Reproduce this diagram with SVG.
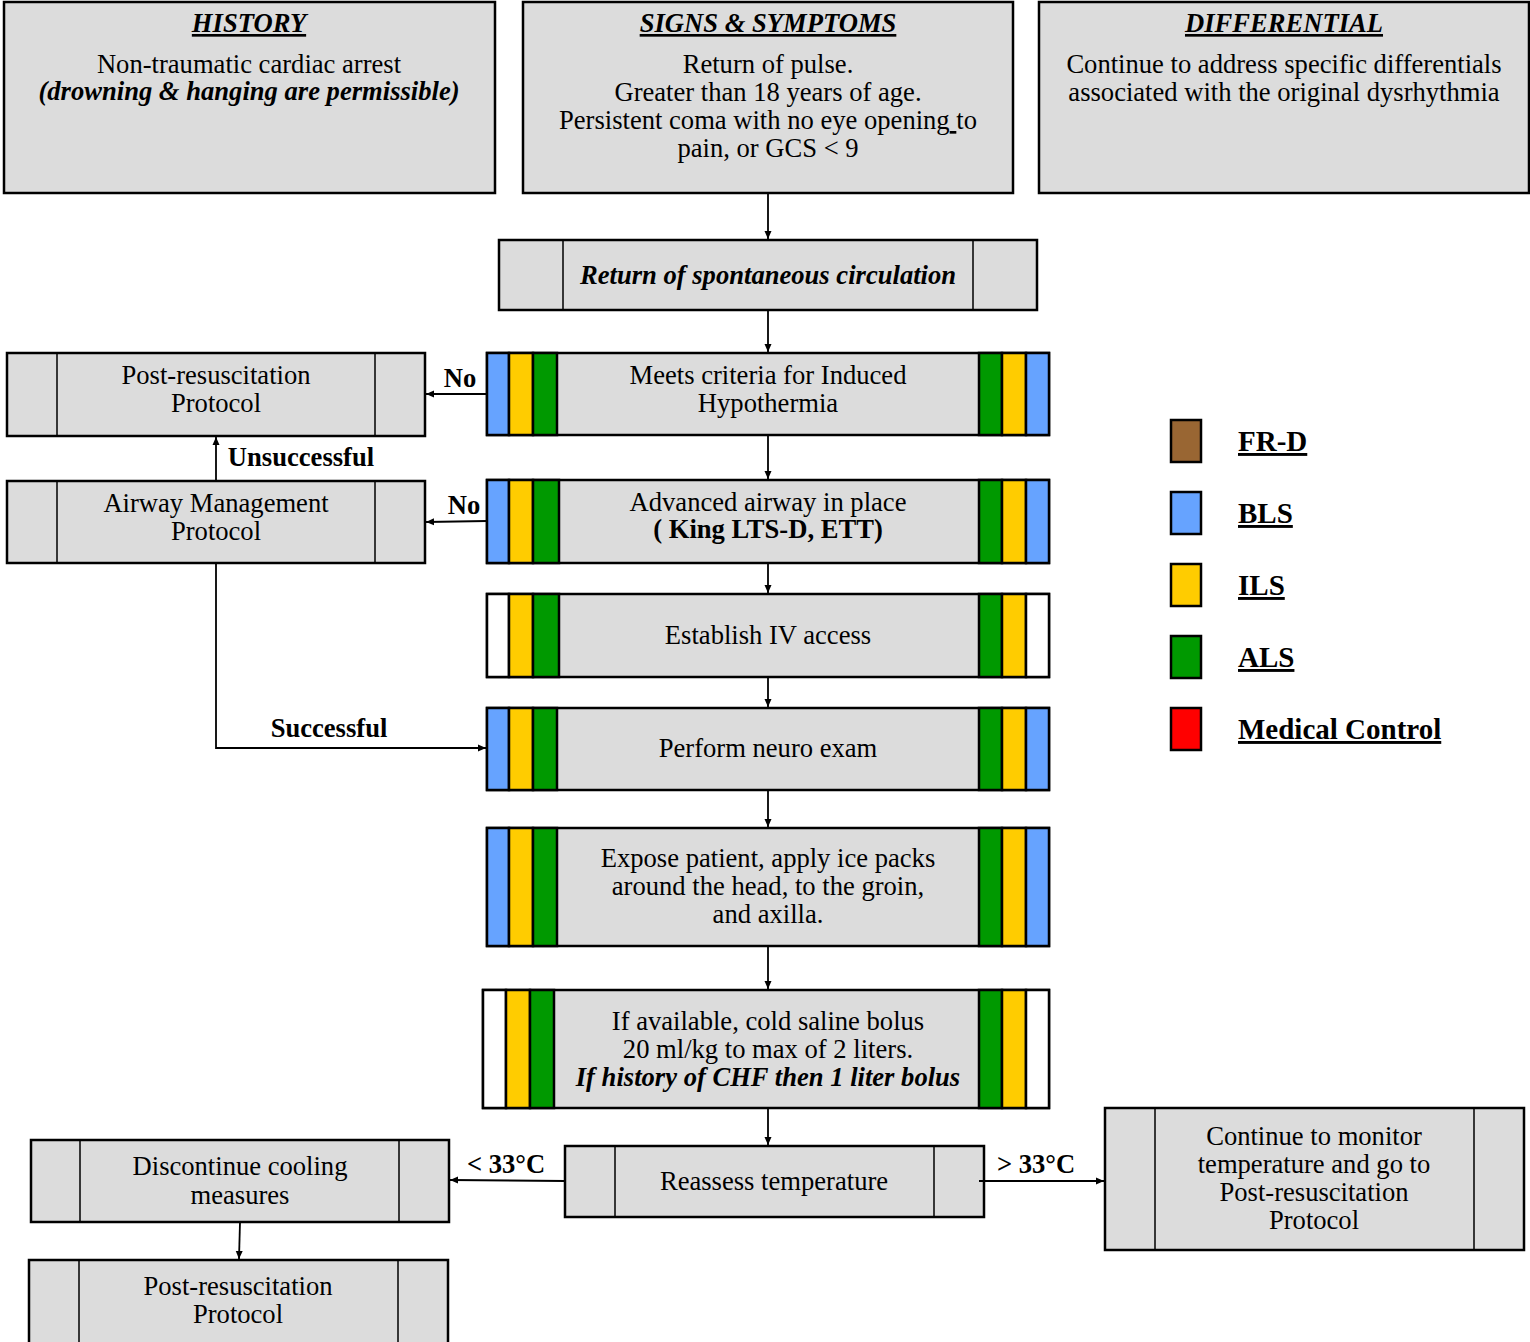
<svg xmlns="http://www.w3.org/2000/svg" width="1530" height="1342" viewBox="0 0 1530 1342">
<style>
.box{fill:#dcdcdc;stroke:#000;stroke-width:2.5}
.dv{stroke:#000;stroke-width:1.5;fill:none}
.s{stroke:#000;stroke-width:2.5}
.bl{fill:#66a3ff}.ye{fill:#ffcc00}.gr{fill:#009900}.wh{fill:#ffffff}.br{fill:#996633}.rd{fill:#ff0000}
.t{font-family:"Liberation Serif","Times New Roman",serif;font-size:26.6px;text-anchor:middle;fill:#000}
.lg{font-family:"Liberation Serif","Times New Roman",serif;font-size:29px;font-weight:bold;text-decoration:underline;fill:#000}
.b{font-weight:bold}
.bi{font-weight:bold;font-style:italic}
.u{text-decoration:underline}
.c{stroke:#000;stroke-width:1.8;fill:none;marker-end:url(#arr)}
</style>
<defs>
<marker id="arr" markerUnits="userSpaceOnUse" markerWidth="8" markerHeight="8" refX="8" refY="4" orient="auto">
<path d="M0,0.5 L8,4 L0,7.5 z" fill="#000"/>
</marker>
</defs>
<rect width="1530" height="1342" fill="#fff"/>

<g id="history">
<rect class="box" x="4" y="2" width="491" height="191"/>
<text class="t bi u" x="249" y="32">HISTORY</text>
<text class="t" x="249" y="73">Non-traumatic cardiac arrest</text>
<text class="t bi" x="249" y="100">(drowning &amp; hanging are permissible)</text>
</g>

<g id="signs">
<rect class="box" x="523" y="2" width="490" height="191"/>
<text class="t bi u" x="768" y="32">SIGNS &amp; SYMPTOMS</text>
<text class="t" x="768" y="73">Return of pulse.</text>
<text class="t" x="768" y="101">Greater than 18 years of age.</text>
<text class="t" x="768" y="129">Persistent coma with no eye opening<tspan class="u"> </tspan>to</text>
<text class="t" x="768" y="157">pain, or GCS &lt; 9</text>
</g>

<g id="differential">
<rect class="box" x="1039" y="2" width="490" height="191"/>
<text class="t bi u" x="1284" y="32">DIFFERENTIAL</text>
<text class="t" x="1284" y="73">Continue to address specific differentials</text>
<text class="t" x="1284" y="101">associated with the original dysrhythmia</text>
</g>

<g id="rosc">
<rect class="box" x="499" y="240" width="538" height="70"/>
<line class="dv" x1="563" y1="240" x2="563" y2="310"/>
<line class="dv" x1="973" y1="240" x2="973" y2="310"/>
<text class="t bi" x="768" y="284">Return of spontaneous circulation</text>
</g>

<g id="criteria">
<rect class="box" x="487" y="353" width="562" height="82"/>
<rect class="s bl" x="487" y="353" width="22" height="82"/>
<rect class="s ye" x="509" y="353" width="24" height="82"/>
<rect class="s gr" x="533" y="353" width="24" height="82"/>
<rect class="s gr" x="979" y="353" width="23" height="82"/>
<rect class="s ye" x="1002" y="353" width="24" height="82"/>
<rect class="s bl" x="1026" y="353" width="23" height="82"/>
<text class="t" x="768" y="384">Meets criteria for Induced</text>
<text class="t" x="768" y="412">Hypothermia</text>
</g>

<g id="airway">
<rect class="box" x="487" y="480" width="562" height="83"/>
<rect class="s bl" x="487" y="480" width="22" height="83"/>
<rect class="s ye" x="509" y="480" width="24" height="83"/>
<rect class="s gr" x="533" y="480" width="26" height="83"/>
<rect class="s gr" x="979" y="480" width="23" height="83"/>
<rect class="s ye" x="1002" y="480" width="24" height="83"/>
<rect class="s bl" x="1026" y="480" width="23" height="83"/>
<text class="t" x="768" y="511">Advanced airway in place</text>
<text class="t b" x="768" y="538">( King LTS-D, ETT)</text>
</g>

<g id="iv">
<rect class="box" x="487" y="594" width="562" height="83"/>
<rect class="s wh" x="487" y="594" width="22" height="83"/>
<rect class="s ye" x="509" y="594" width="24" height="83"/>
<rect class="s gr" x="533" y="594" width="26" height="83"/>
<rect class="s gr" x="979" y="594" width="23" height="83"/>
<rect class="s ye" x="1002" y="594" width="24" height="83"/>
<rect class="s wh" x="1026" y="594" width="23" height="83"/>
<text class="t" x="768" y="644">Establish IV access</text>
</g>

<g id="neuro">
<rect class="box" x="487" y="708" width="562" height="82"/>
<rect class="s bl" x="487" y="708" width="22" height="82"/>
<rect class="s ye" x="509" y="708" width="24" height="82"/>
<rect class="s gr" x="533" y="708" width="24" height="82"/>
<rect class="s gr" x="979" y="708" width="23" height="82"/>
<rect class="s ye" x="1002" y="708" width="24" height="82"/>
<rect class="s bl" x="1026" y="708" width="23" height="82"/>
<text class="t" x="768" y="757">Perform neuro exam</text>
</g>

<g id="expose">
<rect class="box" x="487" y="828" width="562" height="118"/>
<rect class="s bl" x="487" y="828" width="22" height="118"/>
<rect class="s ye" x="509" y="828" width="24" height="118"/>
<rect class="s gr" x="533" y="828" width="24" height="118"/>
<rect class="s gr" x="979" y="828" width="23" height="118"/>
<rect class="s ye" x="1002" y="828" width="24" height="118"/>
<rect class="s bl" x="1026" y="828" width="23" height="118"/>
<text class="t" x="768" y="867">Expose patient, apply ice packs</text>
<text class="t" x="768" y="895">around the head, to the groin,</text>
<text class="t" x="768" y="923">and axilla.</text>
</g>

<g id="saline">
<rect class="box" x="483" y="990" width="566" height="118"/>
<rect class="s wh" x="483" y="990" width="23" height="118"/>
<rect class="s ye" x="506" y="990" width="24" height="118"/>
<rect class="s gr" x="530" y="990" width="24" height="118"/>
<rect class="s gr" x="979" y="990" width="23" height="118"/>
<rect class="s ye" x="1002" y="990" width="24" height="118"/>
<rect class="s wh" x="1026" y="990" width="23" height="118"/>
<text class="t" x="768" y="1030">If available, cold saline bolus</text>
<text class="t" x="768" y="1058">20 ml/kg to max of 2 liters.</text>
<text class="t bi" x="768" y="1086">If history of CHF then 1 liter bolus</text>
</g>

<g id="reassess">
<rect class="box" x="565" y="1146" width="419" height="71"/>
<line class="dv" x1="615" y1="1146" x2="615" y2="1217"/>
<line class="dv" x1="934" y1="1146" x2="934" y2="1217"/>
<text class="t" x="774" y="1190">Reassess temperature</text>
</g>

<g id="postresus-top">
<rect class="box" x="7" y="353" width="418" height="83"/>
<line class="dv" x1="57" y1="353" x2="57" y2="436"/>
<line class="dv" x1="375" y1="353" x2="375" y2="436"/>
<text class="t" x="216" y="384">Post-resuscitation</text>
<text class="t" x="216" y="412">Protocol</text>
</g>

<g id="airway-mgmt">
<rect class="box" x="7" y="481" width="418" height="82"/>
<line class="dv" x1="57" y1="481" x2="57" y2="563"/>
<line class="dv" x1="375" y1="481" x2="375" y2="563"/>
<text class="t" x="216" y="512">Airway Management</text>
<text class="t" x="216" y="540">Protocol</text>
</g>

<g id="discontinue">
<rect class="box" x="31" y="1140" width="418" height="82"/>
<line class="dv" x1="80" y1="1140" x2="80" y2="1222"/>
<line class="dv" x1="399" y1="1140" x2="399" y2="1222"/>
<text class="t" x="240" y="1175">Discontinue cooling</text>
<text class="t" x="240" y="1204">measures</text>
</g>

<g id="postresus-bottom">
<rect class="box" x="29" y="1260" width="419" height="90"/>
<line class="dv" x1="79" y1="1260" x2="79" y2="1350"/>
<line class="dv" x1="398" y1="1260" x2="398" y2="1350"/>
<text class="t" x="238" y="1295">Post-resuscitation</text>
<text class="t" x="238" y="1323">Protocol</text>
</g>

<g id="continue-monitor">
<rect class="box" x="1105" y="1108" width="419" height="142"/>
<line class="dv" x1="1155" y1="1108" x2="1155" y2="1250"/>
<line class="dv" x1="1474" y1="1108" x2="1474" y2="1250"/>
<text class="t" x="1314" y="1145">Continue to monitor</text>
<text class="t" x="1314" y="1173">temperature and go to</text>
<text class="t" x="1314" y="1201">Post-resuscitation</text>
<text class="t" x="1314" y="1229">Protocol</text>
</g>

<g id="legend">
<rect class="s br" x="1171" y="420" width="30" height="42"/>
<rect class="s bl" x="1171" y="492" width="30" height="42"/>
<rect class="s ye" x="1171" y="564" width="30" height="42"/>
<rect class="s gr" x="1171" y="636" width="30" height="42"/>
<rect class="s rd" x="1171" y="708" width="30" height="42"/>
<text class="lg" x="1238" y="451">FR-D</text>
<text class="lg" x="1238" y="523">BLS</text>
<text class="lg" x="1238" y="595">ILS</text>
<text class="lg" x="1238" y="667">ALS</text>
<text class="lg" x="1238" y="739">Medical Control</text>
</g>

<g id="connectors">
<line class="c" x1="768" y1="193" x2="768" y2="239"/>
<line class="c" x1="768" y1="310" x2="768" y2="352"/>
<line class="c" x1="768" y1="435" x2="768" y2="479"/>
<line class="c" x1="768" y1="563" x2="768" y2="593"/>
<line class="c" x1="768" y1="677" x2="768" y2="707"/>
<line class="c" x1="768" y1="790" x2="768" y2="827"/>
<line class="c" x1="768" y1="946" x2="768" y2="989"/>
<line class="c" x1="768" y1="1108" x2="768" y2="1145"/>
<line class="c" x1="487" y1="394" x2="426" y2="394"/>
<line class="c" x1="487" y1="521" x2="426" y2="522"/>
<line class="c" x1="216" y1="481" x2="216" y2="437"/>
<polyline class="c" points="216,563 216,748 486,748"/>
<line class="c" x1="565" y1="1181" x2="450" y2="1180"/>
<line class="c" x1="979" y1="1181" x2="1104" y2="1181"/>
<line class="c" x1="240" y1="1222" x2="239" y2="1259"/>
<text class="t b" x="460" y="387">No</text>
<text class="t b" x="464" y="514">No</text>
<text class="t b" x="301" y="466">Unsuccessful</text>
<text class="t b" x="329" y="737">Successful</text>
<text class="t b" x="506" y="1173">&lt; 33°C</text>
<text class="t b" x="1036" y="1173">&gt; 33°C</text>
</g>
</svg>
